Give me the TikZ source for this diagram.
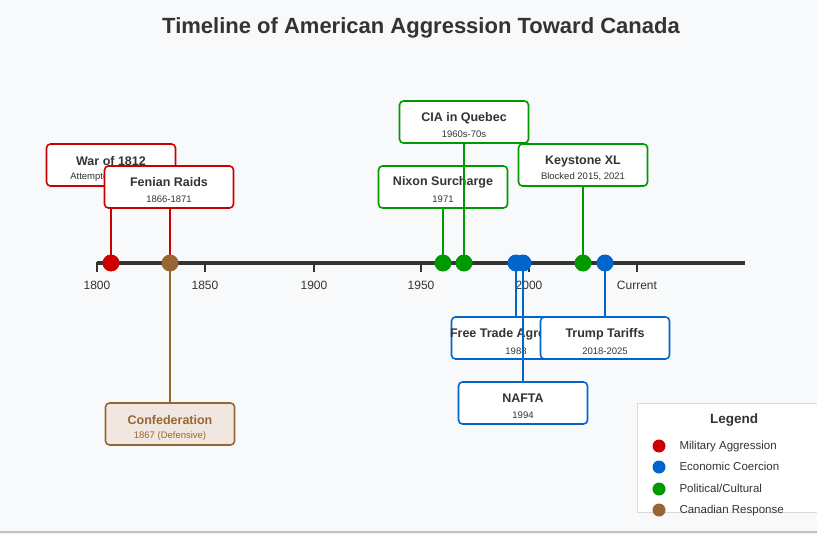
\documentclass[tikz,border=0pt]{standalone}
\usepackage{fontspec}
\setmainfont{Liberation Sans}
\definecolor{mil}{HTML}{CC0000}
\definecolor{eco}{HTML}{0066CC}
\definecolor{pol}{HTML}{009900}
\definecolor{can}{HTML}{996633}
\definecolor{bg}{HTML}{F8F9FA}
\definecolor{txt}{HTML}{333333}
\begin{document}
\begin{tikzpicture}[x=1pt,y=-1pt,
  evbox/.style={draw=#1,line width=1.6pt,rounded corners=4pt,fill=white,minimum width=129pt,minimum height=42pt,inner sep=0pt},
  stem/.style={draw=#1,line width=1.6pt},
  dot/.style={circle,fill=#1,minimum size=17pt,inner sep=0pt},
  ttl/.style={font=\bfseries\fontsize{12.5}{14}\selectfont,text=txt},
  sub/.style={font=\fontsize{9.5}{11}\selectfont,text=txt},
  tick/.style={font=\fontsize{12}{14}\selectfont,text=txt},
  legtxt/.style={anchor=west,font=\fontsize{11.5}{14}\selectfont,text=txt,text height=9pt,text depth=2pt}]
\useasboundingbox (0,0) rectangle (817,535);
\fill[bg] (0,0) rectangle (817,535);
\draw[gray!50,line width=1.5pt] (0,532) -- (817,532);
\node[font=\bfseries\fontsize{22}{26}\selectfont,text=txt] (title) at (421,28) {Timeline of American Aggression Toward Canada};
% axis
\coordinate (a0) at (97,263); \coordinate (a1) at (745,263);
\draw[txt,line width=3.5pt] (a0) -- (a1);
\foreach \x/\l in {97/1800,205/1850,314/1900,421/1950,529/2000,637/Current}{
  \draw[txt,line width=2pt] (\x,262) -- (\x,272);
  \node[tick] at (\x,285) {\l};}
% War of 1812
\coordinate (w1d) at (111,263);
\node[evbox=mil] (w1) at (111,165) {};
\draw[stem=mil] (w1d) -- (w1.south -| w1d);
\node[ttl] at (111,161) {War of 1812};
\node[sub] at (111,177) {Attempted Invasion};
% Fenian
\coordinate (fnd) at (170,263);
\node[evbox=mil] (fn) at (169,187) {};
\draw[stem=mil] (fnd) -- (fn.south -| fnd);
\node[ttl] at (169,182) {Fenian Raids};
\node[sub] at (169,199) {1866-1871};
% Confederation
\node[evbox=can,fill=can!15] (cf) at (170,424) {};
\draw[stem=can] (fnd) -- (cf.north);
\node[ttl,text=can] at (170,420) {Confederation};
\node[sub,text=can] at (170,436) {1867 (Defensive)};
% Nixon
\coordinate (nxd) at (443,263);
\node[evbox=pol] (nx) at (443,187) {};
\draw[stem=pol] (nxd) -- (nx.south);
\node[ttl] at (443,182) {Nixon Surcharge};
\node[sub] at (443,199) {1971};
% CIA
\coordinate (ciad) at (464,263);
\node[evbox=pol] (cia) at (464,122) {};
\node[ttl] at (464,118) {CIA in Quebec};
\node[sub] at (464,134) {1960s-70s};
\draw[stem=pol] (ciad) -- (cia.south);
% Keystone
\coordinate (ksd) at (583,263);
\node[evbox=pol] (ks) at (583,165) {};
\draw[stem=pol] (ksd) -- (ks.south);
\node[ttl] at (583,161) {Keystone XL};
\node[sub] at (583,177) {Blocked 2015, 2021};
% Free Trade
\coordinate (ftd) at (516,263);
\node[evbox=eco] (ft) at (516,338) {};
\draw[stem=eco] (ftd) -- (ft.north);
\node[ttl] at (516,334) {Free Trade Agreement};
\node[sub] at (516,351) {1988};
% NAFTA
\coordinate (nfd) at (523,263);
\node[evbox=eco] (nf) at (523,403) {};
\node[ttl] at (523,398) {NAFTA};
\node[sub] at (523,415) {1994};
\draw[stem=eco] (nfd) -- (nf.north);
% Trump
\coordinate (trd) at (605,263);
\node[evbox=eco] (tr) at (605,338) {};
\draw[stem=eco] (trd) -- (tr.north);
\node[ttl] at (605,334) {Trump Tariffs};
\node[sub] at (605,351) {2018-2025};
% dots
\foreach \x/\c in {111/mil,170/can,443/pol,464/pol,516/eco,523/eco,583/pol,605/eco}
  \node[dot=\c] at (\x,263) {};
% legend
\node[draw=gray!30,fill=white,minimum width=190pt,minimum height=109pt,anchor=north west,inner sep=0pt] (leg) at (637,403) {};
\node[font=\bfseries\fontsize{13.5}{16}\selectfont,text=txt] at (734,420) {Legend};
\foreach \y/\c/\t in {446/mil/{Military Aggression},467/eco/{Economic Coercion},489/pol/{Political/Cultural},510/can/{Canadian Response}}{
  \node[dot=\c,minimum size=13pt] at (659,\y) {};
  \node[legtxt] at (676,\y) {\t};}
\end{tikzpicture}
\end{document}
